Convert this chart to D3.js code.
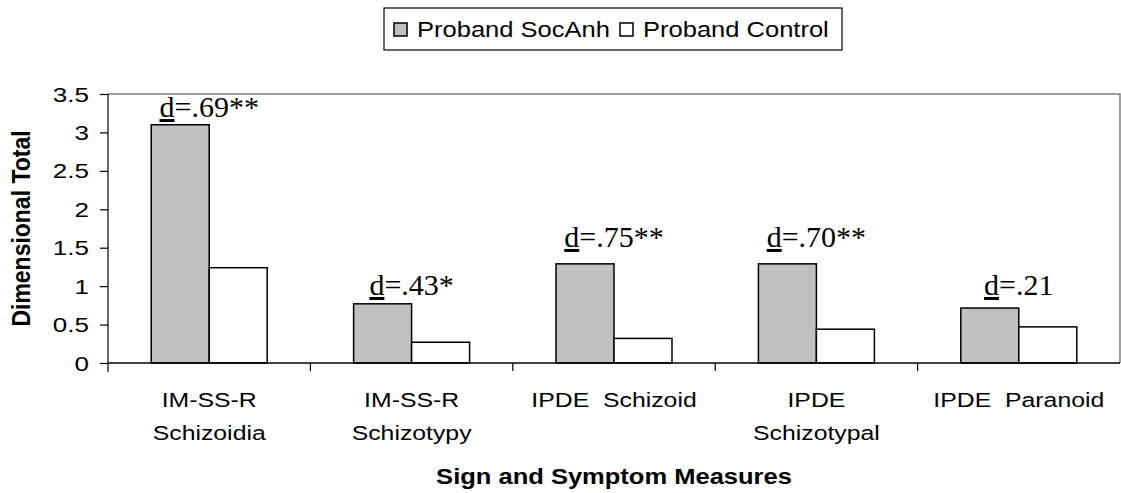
<!DOCTYPE html>
<html>
<head>
<meta charset="utf-8">
<script src="https://cdn.jsdelivr.net/npm/d3@7"></script>
<style>
  html, body { margin: 0; padding: 0; background: #fff; }
  svg text { font-family: "Liberation Sans", Arial, sans-serif; }
</style>
</head>
<body>
<svg id="chart" width="1121" height="493"></svg>
<script>
// ---- data ----
const categories = [
  ["IM-SS-R", "Schizoidia"],
  ["IM-SS-R", "Schizotypy"],
  ["IPDE  Schizoid"],
  ["IPDE", "Schizotypal"],
  ["IPDE  Paranoid"]
];
const seriesNames = ["Proband SocAnh", "Proband Control"];
const socAnh = [3.10, 0.77, 1.29, 1.29, 0.715];
const control = [1.24, 0.27, 0.32, 0.44, 0.47];
const effectLabels = [".69**", ".43*", ".75**", ".70**", ".21"];
const effectLabelLevel = [3.2, 0.885, 1.51, 1.51, 0.885];
const yTicks = [0, 0.5, 1, 1.5, 2, 2.5, 3, 3.5];
const yTickLabels = ["0", "0.5", "1", "1.5", "2", "2.5", "3", "3.5"];
const fills = ["#C0C0C0", "#FFFFFF"];

// ---- layout ----
const svg = d3.select("#chart");
const plot = { left: 108, right: 1120, top: 94, bottom: 363 };

// horizontally stretched text helper (reference text is wide)
function wideText(parent, x, y, str, size, sx, anchor, bold) {
  return parent.append("text")
    .attr("transform", `translate(${x},${y}) scale(${sx},1)`)
    .attr("text-anchor", anchor || "start")
    .attr("font-size", size)
    .attr("font-weight", bold ? "bold" : "normal")
    .attr("fill", "#000")
    .style("white-space", "pre")
    .text(str);
}

const keys = categories.map((c, i) => i);
const x = d3.scaleBand().domain(keys).range([plot.left, plot.right])
  .paddingInner(0.427).paddingOuter(0.2135);
const xSub = d3.scaleBand().domain([0, 1]).range([0, x.bandwidth()]).padding(0);
const y = d3.scaleLinear().domain([0, 3.5]).range([plot.bottom, plot.top]);

// plot area border (top + right, gray)
svg.append("path")
  .attr("d", `M${plot.left},${plot.top}H${plot.right}V${plot.bottom}`)
  .attr("fill", "none").attr("stroke", "#808080").attr("stroke-width", 1.5);

// bars
const series = [socAnh, control];
keys.forEach(i => {
  series.forEach((s, j) => {
    svg.append("rect")
      .attr("x", x(i) + xSub(j))
      .attr("y", y(s[i]))
      .attr("width", xSub.bandwidth())
      .attr("height", y(0) - y(s[i]))
      .attr("fill", fills[j])
      .attr("stroke", "#000")
      .attr("stroke-width", 1.5);
  });
});

// y axis (ticks via d3 axis, labels stretched)
const yAxis = d3.axisLeft(y).tickValues(yTicks).tickFormat("").tickSize(8);
const gy = svg.append("g").attr("transform", `translate(${plot.left},0)`).call(yAxis);
gy.select(".domain").remove();
gy.selectAll(".tick line").attr("stroke", "#000").attr("stroke-width", 1.2);
yTicks.forEach((v, i) => {
  wideText(svg, 89, y(v) + 7.5, yTickLabels[i], 21, 1.24, "end");
});
svg.append("line").attr("x1", plot.left).attr("x2", plot.left)
  .attr("y1", plot.top).attr("y2", plot.bottom + 9)
  .attr("stroke", "#000").attr("stroke-width", 1.2);

// x axis line and category separator ticks
svg.append("line").attr("x1", plot.left).attr("x2", plot.right)
  .attr("y1", plot.bottom).attr("y2", plot.bottom)
  .attr("stroke", "#000").attr("stroke-width", 1.5);
const sepScale = d3.scaleLinear().domain([0, categories.length]).range([plot.left, plot.right]);
d3.range(1, categories.length).forEach(k => {
  svg.append("line").attr("x1", sepScale(k)).attr("x2", sepScale(k))
    .attr("y1", plot.bottom).attr("y2", plot.bottom + 8)
    .attr("stroke", "#000").attr("stroke-width", 1.2);
});

// category labels
keys.forEach(i => {
  const cx = x(i) + x.bandwidth() / 2;
  categories[i].forEach((line, li) => {
    wideText(svg, cx, 407 + li * 33, line, 20.5, 1.21, "middle");
  });
});

// effect size labels
keys.forEach(i => {
  const cx = x(i) + x.bandwidth() / 2;
  const t = svg.append("text").attr("text-anchor", "middle")
    .attr("x", cx).attr("y", y(effectLabelLevel[i]))
    .attr("font-size", 30).attr("fill", "#000")
    .style("font-family", "'Liberation Serif', 'Times New Roman', serif");
  t.append("tspan").style("text-decoration", "underline").text("d");
  t.append("tspan").text("=" + effectLabels[i]);
});

// axis titles
svg.append("text")
  .attr("transform", `translate(30,${(plot.top + plot.bottom) / 2}) rotate(-90) scale(1,1.1)`)
  .attr("text-anchor", "middle").attr("font-size", 23).attr("font-weight", "bold")
  .attr("fill", "#000").text("Dimensional Total");
wideText(svg, (plot.left + plot.right) / 2, 484, "Sign and Symptom Measures", 22, 1.16, "middle", true);

// legend
const lg = svg.append("g");
lg.append("rect").attr("x", 384).attr("y", 8).attr("width", 458).attr("height", 42)
  .attr("fill", "#fff").attr("stroke", "#000").attr("stroke-width", 1.2);
const legendX = [394, 620];
seriesNames.forEach((name, j) => {
  lg.append("rect").attr("x", legendX[j]).attr("y", 23).attr("width", 13).attr("height", 13)
    .attr("fill", fills[j]).attr("stroke", "#000").attr("stroke-width", 1.5);
  wideText(lg, legendX[j] + 23, 36.5, name, 22, 1.16, "start");
});
</script>
</body>
</html>
